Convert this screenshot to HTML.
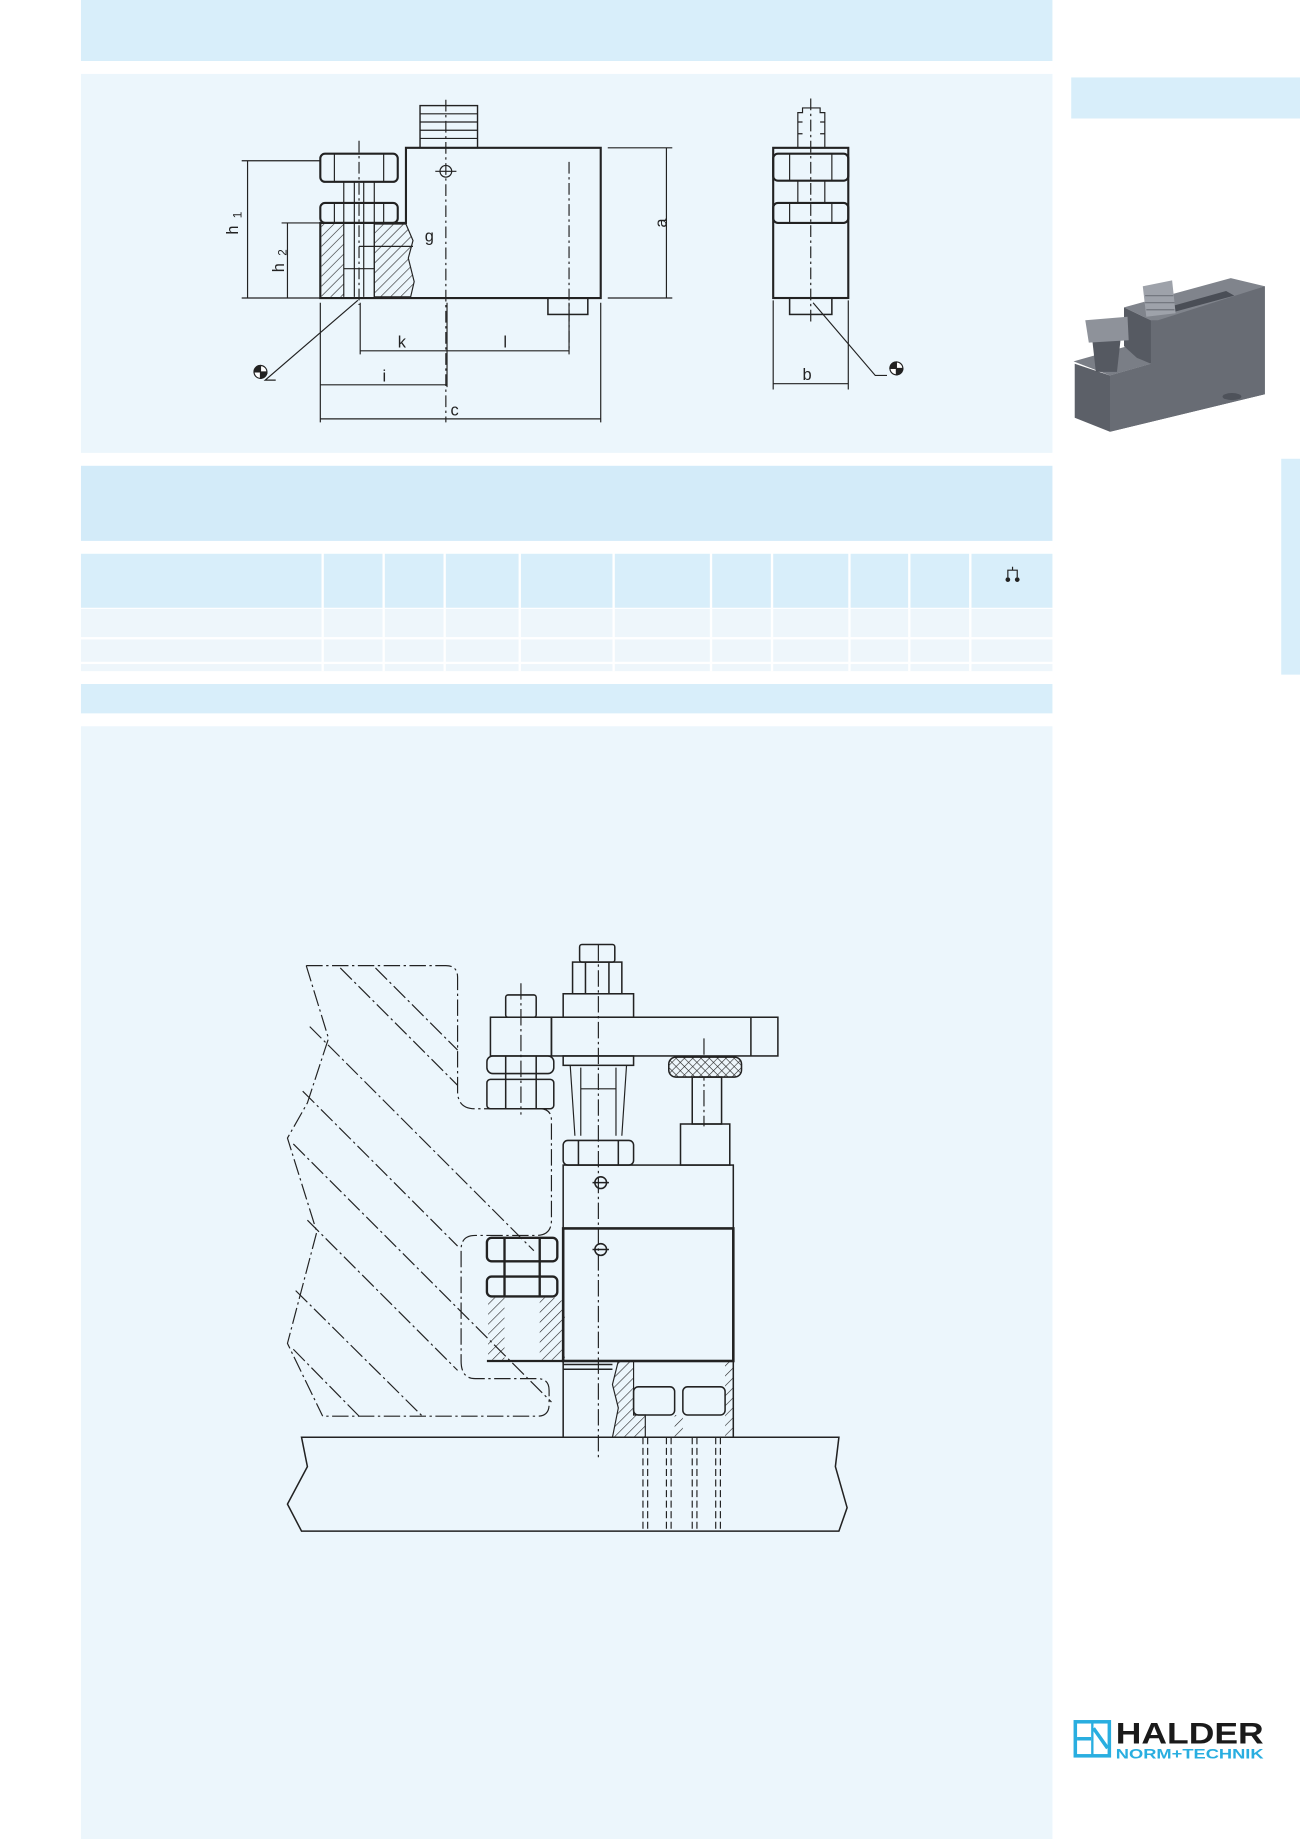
<!DOCTYPE html>
<html><head><meta charset="utf-8"><style>
html,body{margin:0;padding:0;background:#fff;width:1300px;height:1839px;overflow:hidden}
svg{display:block}
</style></head><body>
<svg width="1300" height="1839" viewBox="0 0 1108 1567.4" xmlns="http://www.w3.org/2000/svg" font-family="'Liberation Sans',sans-serif">
<defs>
<pattern id="h" patternUnits="userSpaceOnUse" width="6" height="6" patternTransform="rotate(45)"><line x1="0" y1="0" x2="0" y2="6" stroke="#222" stroke-width="1"/></pattern>
<pattern id="k" patternUnits="userSpaceOnUse" width="5" height="5" patternTransform="rotate(45)"><rect width="5" height="5" fill="#eef6fb"/><path d="M0 0V5M0 0H5" stroke="#222" stroke-width="1"/></pattern>
</defs>
<rect x="69" y="0" width="828" height="52" fill="#d8eefa"/>
<rect x="69" y="63" width="828" height="323" fill="#ecf6fc"/>
<rect x="913" y="66" width="195" height="35" fill="#d8eefa"/>
<rect x="1092" y="391" width="16" height="184" fill="#d8eefa"/>
<rect x="69" y="397" width="828" height="64" fill="#d3ebf9"/>
<g fill="#d8eefa">
<rect x="69" y="472" width="205" height="46"/><rect x="276" y="472" width="50" height="46"/><rect x="328" y="472" width="50" height="46"/><rect x="380" y="472" width="62" height="46"/><rect x="444" y="472" width="78" height="46"/><rect x="524" y="472" width="81" height="46"/><rect x="607" y="472" width="50" height="46"/><rect x="659" y="472" width="64" height="46"/><rect x="725" y="472" width="49" height="46"/><rect x="776" y="472" width="50" height="46"/><rect x="828" y="472" width="69" height="46"/>
</g>
<g fill="#eef6fb">
<rect x="69" y="519" width="828" height="24"/><rect x="69" y="545" width="828" height="19"/><rect x="69" y="566" width="828" height="6"/>
</g>
<g stroke="#fff" stroke-width="2"><line x1="275" y1="519" x2="275" y2="572"/><line x1="327" y1="519" x2="327" y2="572"/><line x1="379" y1="519" x2="379" y2="572"/><line x1="443" y1="519" x2="443" y2="572"/><line x1="523" y1="519" x2="523" y2="572"/><line x1="606" y1="519" x2="606" y2="572"/><line x1="658" y1="519" x2="658" y2="572"/><line x1="724" y1="519" x2="724" y2="572"/><line x1="775" y1="519" x2="775" y2="572"/><line x1="827" y1="519" x2="827" y2="572"/></g>
<g stroke="#222" fill="none" stroke-width="1"><path d="M859 492V486H867V492M863 486V483"/></g>
<circle cx="859" cy="494" r="2" fill="#222"/><circle cx="867" cy="494" r="2" fill="#222"/>
<rect x="69" y="583" width="828" height="25" fill="#d8eefa"/>
<rect x="69" y="619" width="828" height="948.4" fill="#ecf6fc"/>

<!-- photo -->
<g>
<polygon points="916,310 946,320 981,310 981,273 1078,244 1078,336 946,368 916,356" fill="#5c6068"/>
<polygon points="946,320 981,310 981,273 1078,244 1078,336 946,368" fill="#686c74"/>
<polygon points="915,308 961,295 981,310 946,320" fill="#7a7e86"/>
<polygon points="958,262 1049,237 1078,244 987,273 981,273" fill="#80848c"/>
<polygon points="995,262 1045,248 1052,252 1000,266" fill="#4a4e56"/>
<polygon points="958,262 981,273 981,310 969,305 958,295" fill="#565a62"/>
<polygon points="931,290 955,290 952,317 934,317" fill="#555961"/>
<polygon points="925,273 961,270 962,290 928,292" fill="#8e929a"/>
<polygon points="974,244 999,239 1002,267 977,270" fill="#9ea2aa"/>
<path d="M976 252H1000M976 258H1001M977 264H1001" stroke="#6e727a" stroke-width="1"/>
<ellipse cx="1050" cy="338" rx="8" ry="3" fill="#4e525a"/>
</g>

<!-- logo -->
<rect x="915" y="1466" width="32" height="32" fill="#29aee0"/>
<rect x="918" y="1469" width="12" height="26" fill="#fff"/><rect x="932" y="1469" width="12" height="26" fill="#fff"/>
<path d="M918 1482H930M932 1473L944 1490" stroke="#29aee0" stroke-width="3"/>
<text x="951" y="1486" font-size="25" font-weight="bold" fill="#1a1a1a" textLength="126" lengthAdjust="spacingAndGlyphs">HALDER</text>
<text x="951" y="1499" font-size="12" font-weight="bold" fill="#29aee0" textLength="126" lengthAdjust="spacingAndGlyphs">NORM+TECHNIK</text>

<!-- TOP DRAWING front view -->
<g stroke="#222" fill="none" stroke-width="1.8">
<path d="M346 190V126H512V254H273V190Z"/>
<rect x="358" y="90" width="49" height="36" stroke-width="1.2"/>
<path d="M358 97H407M358 104H407M358 111H407M358 118H407" stroke-width="1"/>
<rect x="273" y="131" width="66" height="24" rx="4"/>
<rect x="273" y="173" width="66" height="17" rx="4"/>
<path d="M285 131V155M327 131V155M285 173V190M327 173V190" stroke-width="1"/>
<rect x="467" y="254" width="34" height="14" stroke-width="1.3"/>
</g>
<rect x="274" y="191" width="19" height="62" fill="url(#h)"/>
<path d="M319 191H346L352 205 348 220 353 240 350 253H319Z" fill="url(#h)" stroke="#222"/>
<g stroke="#222" fill="none" stroke-width="1">
<path d="M293 155V253M319 155V253M293 229H319M302 155V253M310 155V253"/>
<circle cx="380" cy="146" r="5"/>
<path d="M306 120V260M380 85V360M485 138V300" stroke-dasharray="10 3 2 3"/>
<path d="M371 146H389"/>
<path d="M206 137H273M206 254H275M240 190H273M518 126H573M518 254H573"/>
<path d="M211 137V254M245 190V254M568 126V254"/>
<path d="M307 258V302M381 258V330M485 258V302M273 258V360M512 258V360"/>
<path d="M307 299H485M273 328H381M273 357H512"/>
<path d="M306 210H352"/>
<path d="M235 324H226L305 256"/>
</g>
<g font-size="14" fill="#222">
<text x="203" y="200" transform="rotate(-90 203 200)">h</text><text x="206" y="186" font-size="10" transform="rotate(-90 206 186)">1</text>
<text x="242" y="232" transform="rotate(-90 242 232)">h</text><text x="244" y="218" font-size="10" transform="rotate(-90 244 218)">2</text>
<text x="362" y="206">g</text>
<text x="568" y="194" transform="rotate(-90 568 194)">a</text>
<text x="339" y="296">k</text><text x="429" y="296">l</text><text x="326" y="325">i</text><text x="384" y="354">c</text>
<text x="684" y="324">b</text>
</g>
<g stroke="#222" stroke-width="1">
<circle cx="222" cy="317" r="5.5" fill="#fff"/><path d="M222 317V311.5A5.5 5.5 0 0 0 216.5 317ZM222 317V322.5A5.5 5.5 0 0 0 227.5 317Z" fill="#222"/>
<circle cx="764" cy="314" r="5.5" fill="#fff"/><path d="M764 314V308.5A5.5 5.5 0 0 0 758.5 314ZM764 314V319.5A5.5 5.5 0 0 0 769.5 314Z" fill="#222"/>
</g>
<!-- side view -->
<g stroke="#222" fill="none" stroke-width="1.8">
<rect x="659" y="126" width="64" height="128"/>
<rect x="659" y="131" width="64" height="23" rx="4"/>
<rect x="659" y="173" width="64" height="17" rx="4"/>
<rect x="673" y="254" width="36" height="14" stroke-width="1.3"/>
</g>
<g stroke="#222" fill="none" stroke-width="1">
<path d="M680 126V96H684V92H699V96H703V126M680 104H684M699 104H703M680 114H684M699 114H703"/>
<path d="M673 131V154M709 131V154M673 173V190M709 173V190M680 154V173M703 154V173"/>
<path d="M691 84V275" stroke-dasharray="10 3 2 3"/>
<path d="M659 256V332M723 256V332M659 327H723"/>
<path d="M756 320H746L693 258"/>
</g>

<!-- BOTTOM DRAWING -->
<g stroke="#222" fill="none" stroke-width="1" stroke-dasharray="14 3 2 3">
<path d="M261 823H380Q390 823 390 833V930Q390 945 405 945H460Q470 945 470 955V1040Q470 1053 457 1053H405Q393 1053 393 1065V1160Q393 1175 405 1175H458Q468 1175 468 1185V1197Q468 1207 458 1207H275"/>
<path d="M261 823L280 885 262 940 245 970 270 1050 245 1145 275 1207"/>
<path d="M290 825L390 925M320 825L390 895M264 875L455 1066M258 930L390 1062M250 975L470 1195M262 1040L390 1168M252 1100L360 1207M250 1150L306 1207"/>
<path d="M510 805V1245M444 838V950M600 885V960"/>
</g>
<g stroke="#222" fill="none" stroke-width="1.3">
<path d="M257 1225H715L712 1250 722 1285 715 1305H257L245 1282 262 1250Z"/>
<rect x="418" y="867" width="52" height="33"/>
<rect x="470" y="867" width="193" height="33"/>
<path d="M640 867V900"/>
<rect x="431" y="848" width="26" height="19" rx="2"/>
<rect x="415" y="900" width="57" height="15" rx="5"/>
<rect x="415" y="920" width="57" height="25" rx="3"/>
<path d="M431 900V945M457 900V945"/>
<rect x="494" y="805" width="30" height="15" rx="2"/>
<rect x="488" y="820" width="42" height="27"/>
<path d="M499 820V847M519 820V847"/>
<rect x="480" y="847" width="60" height="20"/>
<rect x="480" y="900" width="60" height="8"/>
<path d="M486 908L490 968M534 908L530 968M495 910V968M525 910V968M495 928H525" stroke-width="1"/>
<rect x="480" y="972" width="60" height="21" rx="4"/>
<path d="M493 972V993M527 972V993"/>
<rect x="570" y="901" width="62" height="17" rx="6" fill="url(#k)"/>
<rect x="590" y="918" width="25" height="40"/>
<rect x="580" y="958" width="42" height="35"/>
<rect x="480" y="993" width="145" height="54"/>
<rect x="480" y="1047" width="145" height="113" stroke-width="2.2"/>
<path d="M480 1160V1225M625 1160V1225"/>
<rect x="415" y="1055" width="60" height="20" rx="4" stroke-width="2"/>
<rect x="415" y="1088" width="60" height="17" rx="4" stroke-width="2"/>
<path d="M430 1055V1105M460 1055V1105M415 1160H480" stroke-width="2"/>
<rect x="540" y="1182" width="35" height="24" rx="4"/>
<rect x="582" y="1182" width="36" height="24" rx="4"/>
<path d="M480 1163H522M480 1167H522"/>
<circle cx="512" cy="1008" r="5"/><circle cx="512" cy="1065" r="5"/>
<path d="M505 1008H519M505 1065H519"/>
</g>
<rect x="416" y="1106" width="14" height="53" fill="url(#h)"/>
<path d="M460 1106H478L482 1120 478 1140 482 1159H460Z" fill="url(#h)"/>
<path d="M540 1160H527L522 1180 527 1200 522 1225H550V1206H540Z" fill="url(#h)" stroke="#222"/>
<rect x="575" y="1206" width="7" height="19" fill="url(#h)"/>
<rect x="618" y="1160" width="7" height="65" fill="url(#h)"/>
<g stroke="#222" fill="none" stroke-width="1" stroke-dasharray="6 3">
<path d="M548 1225V1305M552 1225V1305M568 1225V1305M572 1225V1305M590 1225V1305M594 1225V1305M610 1225V1305M614 1225V1305"/>
</g>
</svg>
</body></html>
